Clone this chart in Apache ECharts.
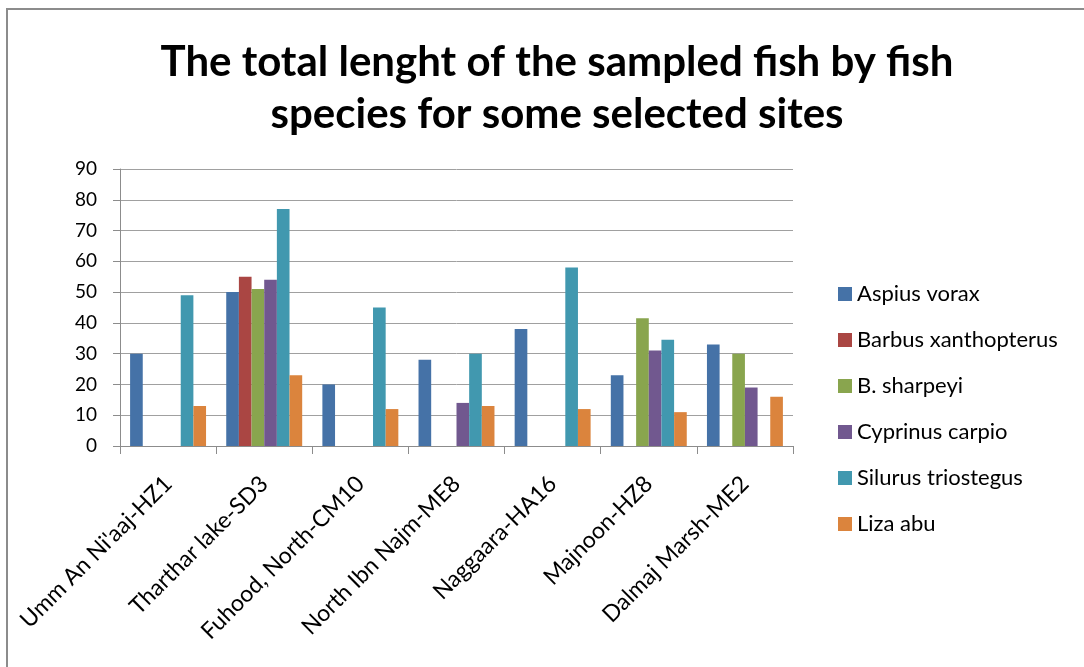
<!DOCTYPE html>
<html>
<head>
<meta charset="utf-8">
<script src="https://cdn.jsdelivr.net/npm/echarts@6/dist/echarts.min.js"></script>
<style>html,body{margin:0;padding:0;background:#fff;}#c{width:1084px;height:667px;}</style>
</head>
<body>
<div id="c"></div>
<script>
var categories = ["Umm An Ni'aaj-HZ1", "Tharthar lake-SD3", "Fuhood, North-CM10", "North Ibn Najm-ME8", "Naggaara-HA16", "Majnoon-HZ8", "Dalmaj Marsh-ME2"];
var seriesNames = ["Aspius vorax", "Barbus xanthopterus", "B. sharpeyi", "Cyprinus carpio", "Silurus triostegus", "Liza abu"];
var aspiusVorax = [30, 50, 20, 28, 38, 23, 33];
var barbusXanthopterus = [null, 55, null, null, null, null, null];
var bSharpeyi = [null, 51, null, null, null, 41.5, 30];
var cyprinusCarpio = [null, 54, null, 14, null, 31, 19];
var silurusTriostegus = [49, 77, 45, 30, 58, 34.5, null];
var lizaAbu = [13, 23, 12, 13, 12, 11, 16];
var yTicks = [0, 10, 20, 30, 40, 50, 60, 70, 80, 90];

var colors = ['#4572A7', '#AA4643', '#89A54E', '#71588F', '#4198AF', '#DB843D'];
var allData = [aspiusVorax, barbusXanthopterus, bSharpeyi, cyprinusCarpio, silurusTriostegus, lizaAbu];

var chart = echarts.init(document.getElementById('c'));
var font = 'Lato, "Open Sans", sans-serif';
chart.setOption({
  animation: false,
  color: colors,
  title: {
    text: 'The total lenght of the sampled fish by fish\nspecies for some selected sites',
    left: 552,
    textAlign: 'center',
    top: 31,
    textStyle: { fontFamily: font, fontWeight: 'bold', fontSize: 42, lineHeight: 52, color: '#000' }
  },
  graphic: [{
    type: 'rect',
    shape: { x: 7, y: 9, width: 1100, height: 700 },
    style: { fill: 'none', stroke: '#8c8c8c', lineWidth: 2 },
    silent: true
  }],
  legend: {
    orient: 'vertical',
    left: 833,
    top: 277,
    itemWidth: 14,
    itemHeight: 14,
    itemGap: 22,
    icon: 'rect',
    textStyle: { fontFamily: font, fontSize: 22, color: '#000', lineHeight: 24 },
    data: seriesNames
  },
  grid: { left: 120, right: 291, top: 169, bottom: 221 },
  xAxis: {
    type: 'category',
    data: categories,
    axisLine: { lineStyle: { color: '#8c8c8c', width: 1 } },
    axisTick: { show: true, length: 8, lineStyle: { color: '#8c8c8c' } },
    axisLabel: { rotate: 45, margin: 34, fontFamily: font, fontSize: 23, color: '#000', interval: 0 }
  },
  yAxis: {
    type: 'value',
    min: 0, max: 90, interval: 10,
    axisLine: { show: true, lineStyle: { color: '#8c8c8c', width: 1 } },
    axisTick: { show: true, length: 7, lineStyle: { color: '#8c8c8c' } },
    axisLabel: { margin: 23, fontFamily: font, fontSize: 19, color: '#000' },
    splitLine: { lineStyle: { color: '#a0a0a0', width: 1 } }
  },
  series: seriesNames.map(function (n, i) {
    return {
      name: n, type: 'bar', data: allData[i],
      barGap: '0%', barCategoryGap: '21%',
      itemStyle: { color: colors[i] }
    };
  })
});
</script>
</body>
</html>
